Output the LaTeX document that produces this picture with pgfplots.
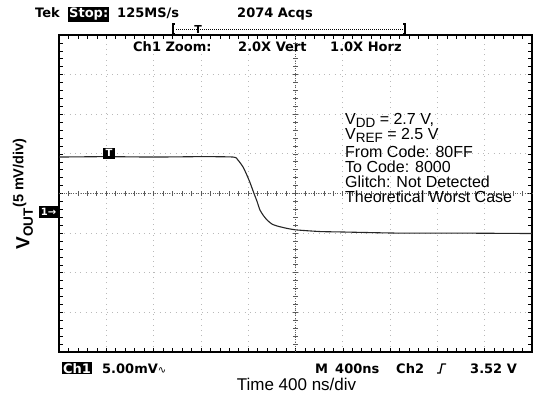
\documentclass[border=0pt]{standalone}
\usepackage{pgfplots}
\pgfplotsset{compat=1.18}
\usepackage{fontspec}
\setmainfont{Liberation Sans}
\newfontfamily\scopefont{DejaVu Sans}
\newcommand{\scp}{\scopefont\bfseries\fontsize{13}{13}\selectfont}
\newcommand{\an}{\fontsize{16}{16}\selectfont}
\begin{document}
\begin{tikzpicture}
\path[use as bounding box] (-59pt,-42pt) rectangle (475pt,352pt);
\begin{axis}[
  at={(0pt,0pt)}, anchor=south west,
  scale only axis, width=473pt, height=317pt,
  xmin=0, xmax=10, ymin=-4, ymax=4,
  xtick={0,...,10}, ytick={-4,...,4},
  minor tick num=4,
  xticklabels={}, yticklabels={},
  tick align=inside,
  major tick length=4pt, minor tick length=4pt,
  tick style={black, line width=0.6pt},
  grid=major,
  major grid style={gray!55, line width=0.8pt, dash pattern=on 0.8pt off 4.5pt},
  axis line style={black, line width=1.1pt},
]
\addplot[black!85, line width=1.1pt, smooth, tension=0.4] coordinates {
(0,0.92) (1.0,0.93) (2.0,0.92) (3.0,0.93) (3.68,0.92) (3.78,0.85) (3.89,0.67)
(3.97,0.47) (4.04,0.27) (4.12,0.01) (4.19,-0.21) (4.25,-0.42) (4.33,-0.57)
(4.40,-0.67) (4.50,-0.77) (4.61,-0.82) (4.82,-0.88) (5.03,-0.92) (5.52,-0.96)
(5.94,-0.97) (7.21,-1.0) (8.5,-1.0) (10,-1.01)
};
\end{axis}
% center cross
\draw[gray!75!black, line width=0.8pt, dash pattern=on 0.8pt off 1.6pt] (236.5pt,0pt) -- (236.5pt,317pt);
\draw[gray!75!black, line width=0.8pt, dash pattern=on 0.8pt off 1.6pt] (0pt,158.5pt) -- (473pt,158.5pt);
\foreach \i in {1,...,49} {\draw[gray!70!black, line width=0.7pt] (\i*9.46pt,156pt) -- (\i*9.46pt,161pt);}
\foreach \i in {1,...,39} {\draw[gray!70!black, line width=0.7pt] (234pt,\i*7.925pt) -- (239pt,\i*7.925pt);}
% top texts
\node[anchor=base west, inner sep=0pt] at (-24pt,334pt) {\scp Tek};
\node[anchor=base west, inner sep=1pt, fill=black, text=white] at (9pt,334pt) {\scp Stop:};
\node[anchor=base west, inner sep=0pt] at (58pt,334pt) {\scp 125MS/s};
\node[anchor=base west, inner sep=0pt] at (178pt,334pt) {\scp 2074 Acqs};
\draw[black, line width=0.6pt, dash pattern=on 1pt off 1pt] (117pt,323pt) -- (346pt,323pt);
\draw[black, line width=1.2pt] (116pt,318pt) -- (114pt,318pt) -- (114pt,328pt) -- (116pt,328pt);
\draw[black, line width=1.2pt] (344pt,318pt) -- (346pt,318pt) -- (346pt,328pt) -- (344pt,328pt);
\node[inner sep=0pt] at (139pt,323pt) {\scopefont\bfseries\fontsize{11}{11}\selectfont T};
\node[anchor=base west, inner sep=0pt] at (74pt,300pt) {\scp Ch1 Zoom:};
\node[anchor=base west, inner sep=0pt] at (179pt,300pt) {\scp 2.0X Vert};
\node[anchor=base west, inner sep=0pt] at (271pt,300pt) {\scp 1.0X Horz};
% annotations
\node[anchor=base west, inner sep=0pt] at (286pt,228pt) {\an V\raisebox{-3pt}{\fontsize{13.5}{13.5}\selectfont DD} = 2.7 V,};
\node[anchor=base west, inner sep=0pt] at (286pt,213pt) {\an V\raisebox{-3pt}{\fontsize{13.5}{13.5}\selectfont REF} = 2.5 V};
\node[anchor=base west, inner sep=0pt] at (286pt,195pt) {\an From Code: 80FF};
\node[anchor=base west, inner sep=0pt] at (286pt,180pt) {\an To Code: 8000};
\node[anchor=base west, inner sep=0pt] at (286pt,165pt) {\an Glitch: Not Detected};
\node[anchor=base west, inner sep=0pt] at (286pt,150pt) {\an Theoretical Worst Case};
% markers
\node[fill=black, text=white, inner sep=0.5pt, minimum width=12pt, minimum height=11pt] at (50pt,199pt) {\scopefont\bfseries\fontsize{10}{10}\selectfont T};
\node[fill=black, text=white, inner sep=0.5pt, minimum width=19pt, minimum height=12pt] at (-10.5pt,140.5pt) {\scopefont\bfseries\fontsize{10}{10}\selectfont 1→};
% bottom row
\node[anchor=base west, inner sep=1pt, fill=black, text=white] at (3pt,-21pt) {\scp Ch1};
\node[anchor=base west, inner sep=0pt] at (43pt,-21pt) {\scp 5.00mV{\mdseries\fontsize{10}{10}\selectfont ∿}};
\node[anchor=base west, inner sep=0pt] at (256pt,-21pt) {\scp M};
\node[anchor=base west, inner sep=0pt] at (276pt,-21pt) {\scp 400ns};
\node[anchor=base west, inner sep=0pt] at (337pt,-21pt) {\scp Ch2};
\draw[black, line width=1.3pt] (378pt,-21pt) -- (381pt,-21pt) -- (383pt,-12pt) -- (387pt,-12pt);
\node[anchor=base west, inner sep=0pt] at (411pt,-21pt) {\scp 3.52 V};
\node[anchor=base, inner sep=0pt] at (237.5pt,-38pt) {\fontsize{17}{17}\selectfont Time 400 ns/div};
% y label
\node[rotate=90, inner sep=0pt] at (-36pt,158pt) {\bfseries\fontsize{19}{19}\selectfont V\textsubscript{\fontsize{13.5}{13.5}\selectfont OUT}\raisebox{6pt}{\fontsize{14.5}{14.5}\selectfont (5 mV/div)}};
\end{tikzpicture}
\end{document}
